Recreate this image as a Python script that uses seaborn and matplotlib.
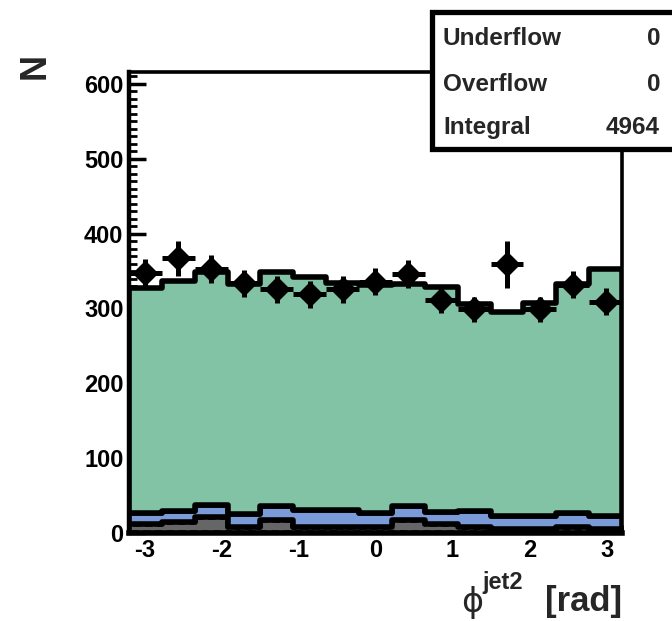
import numpy as np
import pandas as pd
import matplotlib
matplotlib.use("Agg")
import matplotlib.pyplot as plt
from matplotlib.patches import Rectangle
import seaborn as sns

# Binning of phi(jet2) in radians
x_low, x_high, n_bins = -3.2, 3.2, 15
bin_edges = np.linspace(x_low, x_high, n_bins + 1)
bin_centers = 0.5 * (bin_edges[:-1] + bin_edges[1:])

# Observed events per bin and their uncertainties
data_counts = [347, 367, 353, 334, 326, 319, 326, 336, 346, 312, 299, 359, 299, 332, 309]
data_errors = [19, 23, 19, 18, 18, 18, 18, 18, 19, 18, 17, 31, 17, 18, 18]

# Simulated contributions (stacked, bottom to top: gray, blue, green)
mc_gray = [12, 15, 22, 8, 18, 8, 8, 8, 18, 12, 8, 5, 5, 8, 5]
mc_blue = [15, 14, 16, 17, 18, 23, 23, 19, 18, 16, 21, 18, 18, 19, 18]
mc_green = [300, 308, 311, 308, 313, 311, 303, 304, 297, 301, 277, 272, 285, 306, 330]

process_names = ["green", "blue", "gray"]
process_colors = {"green": "#82c2a5", "blue": "#7a9ad8", "gray": "#666666"}

stats_labels = ["Underflow", "Overflow", "Integral"]
stats_values = ["0", "0", "4964"]

rows = []
for name, counts in zip(process_names, [mc_green, mc_blue, mc_gray]):
    for c, n in zip(bin_centers, counts):
        rows.append({"phi": c, "n": n, "process": name})
mc_df = pd.DataFrame(rows)

sns.set_theme(style="white")
plt.rcParams["font.family"] = ["Liberation Sans", "DejaVu Sans"]
plt.rcParams["font.weight"] = "bold"
plt.rcParams["axes.unicode_minus"] = False

W, H = 672, 621
fig = plt.figure(figsize=(W / 100, H / 100), dpi=100)
fig.patch.set_facecolor("white")


def fx(x):
    return x / W


def fy(y):
    return 1 - y / H


ax = fig.add_axes([fx(129), fy(533), fx(622) - fx(129), fy(72) - fy(533)])
ax.set_facecolor("white")

sns.histplot(
    data=mc_df, x="phi", weights="n", hue="process", hue_order=process_names,
    multiple="stack", bins=[float(b) for b in bin_edges], element="step", fill=True,
    palette=process_colors, edgecolor="black", linewidth=4.0, alpha=1,
    legend=False, ax=ax,
)

# The gray component is outlined with a dashed line
for coll in ax.collections:
    fc = coll.get_facecolor()
    if len(fc) and abs(fc[0][0] - 0x66 / 255) < 0.02 and abs(fc[0][2] - 0x66 / 255) < 0.02:
        coll.set_linestyle((0, (1.3, 0.8)))

ax.errorbar(
    bin_centers, data_counts, yerr=data_errors,
    xerr=(bin_edges[1] - bin_edges[0]) / 2,
    fmt="D", color="black", ms=12, elinewidth=3.6, capsize=0, zorder=6,
)

ax.set_xlim(x_low, x_high)
ax.set_ylim(0, 616)
ax.set_xlabel("")
ax.set_ylabel("")
ax.set_xticks([-3, -2, -1, 0, 1, 2, 3])
ax.set_yticks([0, 100, 200, 300, 400, 500, 600])
ax.set_xticks(np.arange(-3.2, 3.21, 0.2), minor=True)
ax.set_yticks(np.arange(0, 616, 10), minor=True)
ax.tick_params(axis="both", which="major", direction="in", length=12, width=2.5,
               labelsize=17, top=False, right=False, left=True, bottom=True, pad=4,
               color="black", labelcolor="black")
ax.tick_params(axis="both", which="minor", direction="in", length=6, width=2,
               top=False, right=False, left=True, bottom=True, color="black")
for lab in ax.get_xticklabels() + ax.get_yticklabels():
    lab.set_fontweight("bold")
for side in ["left", "bottom", "top", "right"]:
    ax.spines[side].set_visible(True)
    ax.spines[side].set_color("black")
    ax.spines[side].set_linewidth(2.6)
ax.spines["left"].set_linewidth(3.2)
ax.spines["bottom"].set_linewidth(4.0)

# Axis titles
fig.text(fx(35), fy(66), "N", rotation=90, fontsize=26, fontweight="bold",
         ha="center", va="center")
fig.text(fx(622), fy(611), "[rad]", fontsize=25, fontweight="bold",
         ha="right", va="baseline")
fig.text(fx(523), fy(589), "jet2", fontsize=17, fontweight="bold",
         ha="right", va="baseline")
fig.text(fx(483), fy(612), "\u03d5", fontsize=24, fontweight="normal",
         family="DejaVu Sans", ha="right", va="baseline")

# Statistics box
box = Rectangle((fx(432), fy(149)), fx(700) - fx(432), fy(12) - fy(149),
                transform=fig.transFigure, facecolor="white", edgecolor="black",
                linewidth=3.8, zorder=10)
fig.patches.append(box)
for i, (lab, val) in enumerate(zip(stats_labels, stats_values)):
    yb = [45, 91, 134][i]
    fig.text(fx(443), fy(yb), lab, fontsize=17.5, fontweight="bold",
             ha="left", va="baseline", zorder=11)
    fig.text(fx(660), fy(yb), val, fontsize=17.5, fontweight="bold",
             ha="right", va="baseline", zorder=11)

fig.savefig("out.png", dpi=100)
